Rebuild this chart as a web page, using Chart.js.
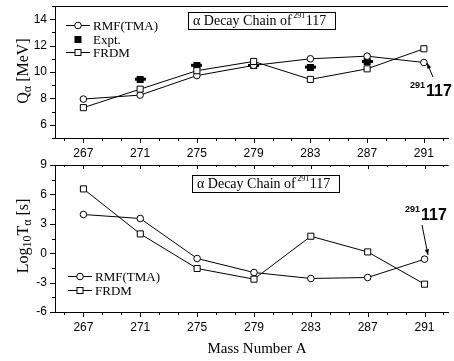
<!DOCTYPE html>
<html>
<head>
<meta charset="utf-8">
<script src="https://cdn.jsdelivr.net/npm/chart.js@4"></script>
<style>
  body { margin: 0; background: #fff; }
  #wrap { position: relative; width: 454px; height: 361px; }
</style>
</head>
<body>
<div id="wrap">
  <canvas id="topChart" width="454" height="170" style="position:absolute;left:0;top:0;width:454px;height:170px"></canvas>
  <canvas id="botChart" width="454" height="206" style="position:absolute;left:0;top:155px;width:454px;height:206px"></canvas>
</div>
<script>
// ====== DATA ======
const massNumbers = [267, 271, 275, 279, 283, 287, 291];
const qRmf  = [7.95, 8.25, 9.73, 10.5, 11.0, 11.2, 10.72];
const qExpt = [null, 9.46, 10.51, 10.5, 10.37, 10.8, null];
const qFrdm = [7.3, 8.7, 10.1, 10.8, 9.44, 10.24, 11.76];
const tRmf  = [3.95, 3.54, -0.54, -1.97, -2.58, -2.48, -0.61];
const tFrdm = [6.56, 1.97, -1.56, -2.65, 1.73, 0.13, -3.16];
const xTickLabels = [267, 271, 275, 279, 283, 287, 291];

const SERIF = "'Liberation Serif', 'Times New Roman', serif";
const SANS = "'Liberation Sans', Arial, sans-serif";

Chart.defaults.animation = false;
Chart.defaults.color = "#000";

function pts(ys) {
  return massNumbers.map((x, i) => ({ x, y: ys[i] })).filter(p => p.y !== null);
}

// expt marker: filled block with small horizontal bar
const exptMark = document.createElement("canvas");
exptMark.width = 11; exptMark.height = 7;
(function () {
  const c = exptMark.getContext("2d");
  c.fillStyle = "#000";
  c.fillRect(0, 2, 11, 3);
  c.fillRect(2, 0, 7, 7);
})();

// ====== TICK MARKS / FRAME ======
const framePlugin = {
  id: "frame",
  afterDraw(chart, args, opts) {
    const ctx = chart.ctx;
    const a = chart.chartArea;
    const xs = chart.scales.x, ys = chart.scales.y;
    ctx.save();
    ctx.strokeStyle = "#000";
    ctx.lineWidth = 1;
    ctx.beginPath();
    // top border
    ctx.moveTo(a.left, a.top + 0.5);
    ctx.lineTo(a.right, a.top + 0.5);
    // x ticks
    xs.ticks.forEach(t => {
      const px = Math.round(xs.getPixelForValue(t.value)) + 0.5;
      const len = t.label !== "" ? 5 : 3;
      ctx.moveTo(px, a.bottom);
      ctx.lineTo(px, a.bottom + len);
      if (opts.topTicks) {
        ctx.moveTo(px, a.top);
        ctx.lineTo(px, a.top + len - 1);
      }
    });
    // y ticks
    ys.ticks.forEach(t => {
      const py = Math.round(ys.getPixelForValue(t.value)) + 0.5;
      const len = t.label !== "" ? 5 : 3;
      ctx.moveTo(a.left - len, py);
      ctx.lineTo(a.left, py);
    });
    ctx.stroke();
    ctx.restore();
  }
};

// ====== TEXT / LEGEND / ANNOTATIONS ======
function drawMarker(ctx, kind, x, y) {
  ctx.save();
  ctx.strokeStyle = "#000";
  ctx.fillStyle = "#fff";
  ctx.lineWidth = 1;
  if (kind === "circle") {
    ctx.beginPath();
    ctx.arc(x, y, 3.3, 0, Math.PI * 2);
    ctx.fill(); ctx.stroke();
  } else if (kind === "square") {
    ctx.fillRect(x - 3, y - 3, 6, 6);
    ctx.strokeRect(x - 3, y - 3, 6, 6);
  } else {
    ctx.fillStyle = "#000";
    ctx.fillRect(x - 3.5, y - 3.5, 7, 7);
  }
  ctx.restore();
}

function drawLegend(ctx, items, x0, y0, dy) {
  ctx.save();
  ctx.font = "13px " + SERIF;
  ctx.textBaseline = "middle";
  ctx.fillStyle = "#000";
  items.forEach((it, i) => {
    const y = Math.round(y0 + i * dy) + 0.5;
    if (it.line) {
      ctx.beginPath();
      ctx.moveTo(x0, y);
      ctx.lineTo(x0 + 24, y);
      ctx.stroke();
    }
    drawMarker(ctx, it.kind, x0 + 12, y);
    ctx.fillText(it.text, x0 + 27, y + 1);
  });
  ctx.restore();
}

function drawTitleBox(ctx, x, y, w, h) {
  ctx.save();
  ctx.fillStyle = "#fff";
  ctx.fillRect(x, y, w, h);
  ctx.strokeStyle = "#000";
  ctx.lineWidth = 1;
  ctx.strokeRect(x + 0.5, y + 0.5, w, h);
  ctx.fillStyle = "#000";
  ctx.textBaseline = "alphabetic";
  const base = y + h - 4;
  let cx = x + 5;
  ctx.font = "14px " + SERIF;
  const t1 = "\u03b1 Decay Chain of ";
  ctx.fillText(t1, cx, base);
  cx += ctx.measureText(t1).width - 2;
  ctx.font = "8px " + SERIF;
  ctx.fillText("291", cx, base - 7);
  cx += ctx.measureText("291").width + 0.5;
  ctx.font = "14px " + SERIF;
  ctx.fillText("117", cx, base);
  ctx.restore();
}

function drawNuclide(ctx, x, base) {
  ctx.save();
  ctx.fillStyle = "#000";
  ctx.textBaseline = "alphabetic";
  ctx.font = "bold 9px " + SANS;
  ctx.fillText("291", x, base - 8);
  const w = ctx.measureText("291").width;
  ctx.font = "bold 16px " + SANS;
  ctx.fillText("117", x + w + 1, base);
  ctx.restore();
}

function drawArrow(ctx, x1, y1, x2, y2) {
  ctx.save();
  ctx.strokeStyle = "#000";
  ctx.fillStyle = "#000";
  ctx.lineWidth = 1;
  ctx.beginPath();
  ctx.moveTo(x1, y1);
  ctx.lineTo(x2, y2);
  ctx.stroke();
  const ang = Math.atan2(y2 - y1, x2 - x1);
  ctx.beginPath();
  ctx.moveTo(x2, y2);
  ctx.lineTo(x2 - 6 * Math.cos(ang - 0.35), y2 - 6 * Math.sin(ang - 0.35));
  ctx.lineTo(x2 - 6 * Math.cos(ang + 0.35), y2 - 6 * Math.sin(ang + 0.35));
  ctx.closePath();
  ctx.fill();
  ctx.restore();
}

function drawYTitle(ctx, cx, cy, parts) {
  ctx.save();
  ctx.translate(cx, cy);
  ctx.rotate(-Math.PI / 2);
  ctx.fillStyle = "#000";
  ctx.textBaseline = "alphabetic";
  let total = 0;
  parts.forEach(p => { ctx.font = p.size + "px " + SERIF; p.w = ctx.measureText(p.t).width; total += p.w; });
  let x = -total / 2;
  parts.forEach(p => {
    ctx.font = p.size + "px " + SERIF;
    ctx.fillText(p.t, x, 6 + (p.dy || 0));
    x += p.w;
  });
  ctx.restore();
}

const topText = {
  id: "topText",
  afterDraw(chart) {
    const ctx = chart.ctx;
    drawTitleBox(ctx, 188, 12, 147, 17);
    drawLegend(ctx, [
      { kind: "circle", line: true, text: "RMF(TMA)" },
      { kind: "expt", line: false, text: "Expt." },
      { kind: "square", line: true, text: "FRDM" }
    ], 66, 25, 13.5);
    drawNuclide(ctx, 410, 96);
    drawArrow(ctx, 433, 77, 427, 63);
    drawYTitle(ctx, 22, 71, [
      { t: "Q", size: 16 }, { t: "\u03b1", size: 12, dy: 3 }, { t: " [MeV]", size: 16 }
    ]);
  }
};

const botText = {
  id: "botText",
  afterDraw(chart) {
    const ctx = chart.ctx;
    const off = 155;
    drawTitleBox(ctx, 192, 175 - off, 147, 17);
    drawLegend(ctx, [
      { kind: "circle", line: true, text: "RMF(TMA)" },
      { kind: "square", line: true, text: "FRDM" }
    ], 68, 275.5 - off, 14.5);
    drawNuclide(ctx, 405, 220 - off);
    drawArrow(ctx, 422, 225 - off, 428, 255 - off);
    drawYTitle(ctx, 22, 236 - off, [
      { t: "Log", size: 16 }, { t: "10", size: 12, dy: 3 }, { t: "T", size: 16 },
      { t: "\u03b1", size: 12, dy: 3 }, { t: " [s]", size: 16 }
    ]);
    ctx.save();
    ctx.font = "15px " + SERIF;
    ctx.fillStyle = "#000";
    ctx.textAlign = "center";
    ctx.textBaseline = "middle";
    ctx.fillText("Mass Number A", 257, 349 - off);
    ctx.restore();
  }
};

// ====== SCALES ======
function noOverflow(scale) {
  scale.paddingTop = 0;
  scale.paddingBottom = 0;
  scale.paddingLeft = 0;
  scale.paddingRight = 0;
}

function xScale(height) {
  return {
    type: "linear",
    min: 265,
    max: 292.7,
    afterBuildTicks(scale) {
      const t = [];
      for (let v = 267 - 4 / 3; v <= 292.7; v += 4 / 3) t.push({ value: v });
      scale.ticks = t;
    },
    afterFit(scale) { scale.height = height; noOverflow(scale); },
    grid: { display: false, drawTicks: false },
    border: { display: true, color: "#000", width: 1 },
    ticks: {
      autoSkip: false,
      maxRotation: 0,
      padding: 8,
      font: { family: SANS, size: 12 },
      callback(v) {
        const r = Math.round(v * 100) / 100;
        return xTickLabels.includes(r) ? String(r) : "";
      }
    }
  };
}

function yScale(min, max, labelStep) {
  return {
    type: "linear",
    min, max,
    afterBuildTicks(scale) {
      const t = [];
      const step = labelStep / 2;
      for (let v = min; v <= max + 1e-9; v += step) t.push({ value: Math.round(v * 100) / 100 });
      scale.ticks = t;
    },
    afterFit(scale) { scale.width = 55; noOverflow(scale); },
    grid: { display: false, drawTicks: false },
    border: { display: true, color: "#000", width: 1 },
    ticks: {
      autoSkip: false,
      padding: 8,
      font: { family: SANS, size: 12 },
      callback(v) {
        return Math.abs(v / labelStep - Math.round(v / labelStep)) < 1e-6 ? String(v) : "";
      }
    }
  };
}

const lineStyle = {
  borderColor: "#000",
  borderWidth: 1,
  pointBorderColor: "#000",
  pointBackgroundColor: "#fff",
  pointBorderWidth: 1,
  tension: 0
};

// ====== TOP CHART ======
new Chart(document.getElementById("topChart"), {
  type: "line",
  data: {
    datasets: [
      { ...lineStyle, label: "FRDM", data: pts(qFrdm), pointStyle: "rect", pointRadius: 4.3 },
      { ...lineStyle, label: "RMF(TMA)", data: pts(qRmf), pointStyle: "circle", pointRadius: 3.3 },
      { label: "Expt.", data: pts(qExpt), showLine: false, pointStyle: exptMark, pointRadius: 5 }
    ]
  },
  options: {
    responsive: false,
    layout: { padding: { top: 1, right: 0, left: 0, bottom: 0 } },
    plugins: { legend: { display: false }, tooltip: { enabled: false }, frame: { topTicks: false } },
    scales: { x: xScale(32), y: yScale(5, 15, 2) }
  },
  plugins: [framePlugin, topText]
});

// ====== BOTTOM CHART ======
new Chart(document.getElementById("botChart"), {
  type: "line",
  data: {
    datasets: [
      { ...lineStyle, label: "FRDM", data: pts(tFrdm), pointStyle: "rect", pointRadius: 4.3 },
      { ...lineStyle, label: "RMF(TMA)", data: pts(tRmf), pointStyle: "circle", pointRadius: 3.3 }
    ]
  },
  options: {
    responsive: false,
    layout: { padding: { top: 10, right: 0, left: 0, bottom: 0 } },
    plugins: { legend: { display: false }, tooltip: { enabled: false }, frame: { topTicks: true } },
    scales: { x: xScale(49), y: yScale(-6, 9, 3) }
  },
  plugins: [framePlugin, botText]
});
</script>
</body>
</html>
